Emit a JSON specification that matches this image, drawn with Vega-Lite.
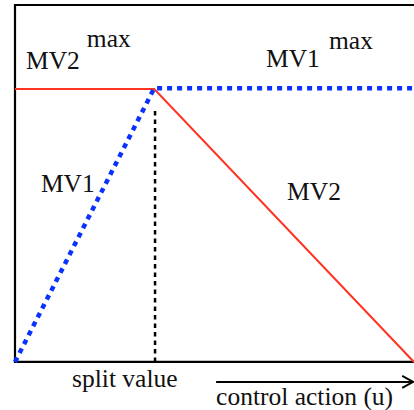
{
  "$schema": "https://vega.github.io/schema/vega-lite/v6.json",
  "width": 414,
  "height": 410,
  "padding": 0,
  "autosize": "none",
  "background": "white",
  "config": {"view": {"stroke": null}},
  "layer": [
    {
      "data": {"values": [{"u0": 0, "u1": 1.1, "v0": 0, "v1": 1.3077}]},
      "mark": {"type": "rect", "fill": null, "fillOpacity": 0, "stroke": "#000000", "strokeWidth": 2.2},
      "encoding": {
        "x": {"field": "u0", "type": "quantitative", "scale": {"domain": [-0.0376, 1], "nice": false, "zero": false}, "axis": null},
        "x2": {"field": "u1"},
        "y": {"field": "v0", "type": "quantitative", "scale": {"domain": [-0.176, 1.326], "nice": false, "zero": false}, "axis": null},
        "y2": {"field": "v1"}
      }
    },
    {
      "data": {"values": [{"u": 0.351, "v0": 0, "v1": 0.934}]},
      "mark": {"type": "rule", "color": "#000000", "strokeWidth": 2.5, "strokeDash": [4.5, 4]},
      "encoding": {
        "x": {"field": "u", "type": "quantitative"},
        "y": {"field": "v0", "type": "quantitative"},
        "y2": {"field": "v1"}
      }
    },
    {
      "data": {"values": [{"u": 0, "v": 1, "o": 1}, {"u": 0.349, "v": 1, "o": 2}, {"u": 1, "v": 0, "o": 3}]},
      "mark": {"type": "line", "color": "#ff3322", "strokeWidth": 2},
      "encoding": {
        "x": {"field": "u", "type": "quantitative"},
        "y": {"field": "v", "type": "quantitative"},
        "order": {"field": "o"}
      }
    },
    {
      "data": {"values": [{"u": 0, "v": 0, "o": 1}, {"u": 0.349, "v": 1.003, "o": 2}, {"u": 1.05, "v": 1.003, "o": 3}]},
      "mark": {"type": "line", "color": "#0a32ff", "strokeWidth": 4.5, "strokeDash": [5, 5], "strokeCap": "butt"},
      "encoding": {
        "x": {"field": "u", "type": "quantitative"},
        "y": {"field": "v", "type": "quantitative"},
        "order": {"field": "o"}
      }
    },
    {
      "data": {"values": [{"u0": 0.504, "u1": 0.998, "v": -0.073}]},
      "mark": {"type": "rule", "color": "#000000", "strokeWidth": 2},
      "encoding": {
        "x": {"field": "u0", "type": "quantitative"},
        "x2": {"field": "u1"},
        "y": {"field": "v", "type": "quantitative"}
      }
    },
    {
      "data": {"values": [{"u": 0.998, "v": -0.073}]},
      "mark": {"type": "point", "shape": "M-1,-0.55L0,0L-1,0.55", "filled": false, "stroke": "#000000", "strokeWidth": 2, "size": 484, "opacity": 1},
      "encoding": {
        "x": {"field": "u", "type": "quantitative"},
        "y": {"field": "v", "type": "quantitative"}
      }
    },
    {
      "data": {"values": [
        {"label": "MV2", "u": 0.0276, "v": 1.073},
        {"label": "max", "u": 0.180, "v": 1.154},
        {"label": "MV1", "u": 0.629, "v": 1.081},
        {"label": "max", "u": 0.787, "v": 1.147},
        {"label": "MV1", "u": 0.065, "v": 0.623},
        {"label": "MV2", "u": 0.682, "v": 0.593},
        {"label": "split value", "u": 0.143, "v": -0.0916},
        {"label": "control action (u)", "u": 0.504, "v": -0.1575}
      ]},
      "mark": {"type": "text", "align": "left", "baseline": "alphabetic", "font": "Liberation Serif", "fontSize": 25.5, "color": "#111111"},
      "encoding": {
        "x": {"field": "u", "type": "quantitative"},
        "y": {"field": "v", "type": "quantitative"},
        "text": {"field": "label"}
      }
    }
  ]
}
